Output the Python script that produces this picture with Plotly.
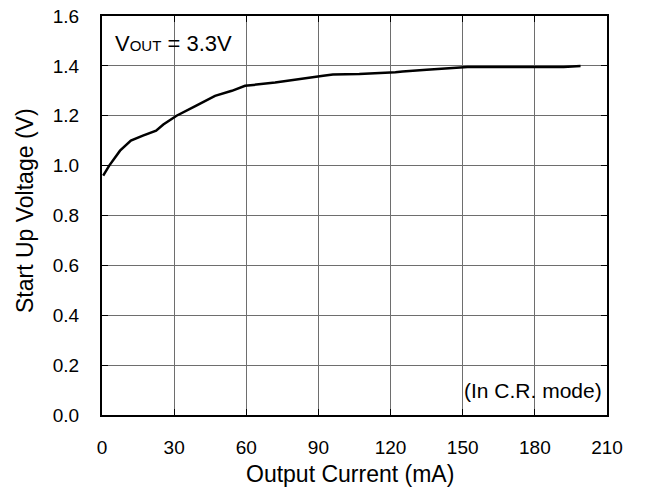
import plotly.graph_objects as go

# Start-up voltage vs. output current (VOUT = 3.3V, C.R. load)
output_current_ma = [0.5, 3, 7.5, 12, 17, 22.5, 25.5, 31, 39, 47, 54, 59.5,
                     72, 80, 92, 96, 107, 122, 125, 135, 145, 152, 170, 192, 199]
startup_voltage_v = [0.96, 1.00, 1.06, 1.10, 1.12, 1.14, 1.165, 1.20, 1.24, 1.28, 1.30, 1.32,
                     1.333, 1.345, 1.36, 1.365, 1.367, 1.374, 1.377, 1.384, 1.39, 1.395, 1.395, 1.395, 1.40]

x_ticks = [0, 30, 60, 90, 120, 150, 180, 210]
y_ticks = [0.0, 0.2, 0.4, 0.6, 0.8, 1.0, 1.2, 1.4, 1.6]

FONT = "Liberation Sans, Arial, Helvetica, sans-serif"

# plot-area geometry in pixels
L, R, T, B = 102, 607, 16, 415
W, H = R - L, B - T


def px(x):
    return (x - L) / W


def py(y):
    return (B - y) / H


fig = go.Figure()
fig.add_trace(go.Scatter(
    x=output_current_ma, y=startup_voltage_v, mode="lines",
    line=dict(color="black", width=2.5, shape="linear"),
    showlegend=False, hoverinfo="skip",
))

axis_common = dict(
    showgrid=True, gridcolor="#6e6e6e", gridwidth=1.3,
    showline=True, linecolor="black", linewidth=2, mirror="allticks",
    ticks="inside", ticklen=6, tickcolor="black", tickwidth=1.2,
    zeroline=False, automargin=False,
    tickfont=dict(family=FONT, size=19, color="black"),
)

fig.update_xaxes(range=[0, 210], tickvals=x_ticks, ticktext=[str(v) for v in x_ticks],
                 ticklabelstandoff=14, **axis_common)
fig.update_yaxes(range=[0, 1.6], tickvals=y_ticks, ticktext=[f"{v:.1f}" for v in y_ticks],
                 ticklabelstandoff=17, **axis_common)

# White label boxes sit above the grid but under the ticks and the curve
fig.add_shape(type="rect", xref="paper", yref="paper", x0=0, x1=px(232),
              y0=py(66), y1=1, fillcolor="white", line=dict(width=0), layer="between")
fig.add_shape(type="rect", xref="paper", yref="paper", x0=px(455), x1=1,
              y0=0, y1=py(368), fillcolor="white", line=dict(width=0), layer="between")

fig.add_annotation(xref="paper", yref="paper", x=px(113), y=py(43),
                   xanchor="left", yanchor="middle", showarrow=False,
                   text='V<span style="font-size:15px">OUT</span> = 3.3V',
                   font=dict(family=FONT, size=22, color="black"))
fig.add_annotation(xref="paper", yref="paper", x=px(604), y=py(390),
                   xanchor="right", yanchor="middle", showarrow=False,
                   text="(In C.R. mode)", font=dict(family=FONT, size=21, color="black"))

# Axis titles
fig.add_annotation(xref="paper", yref="paper", x=px(350), y=py(474),
                   xanchor="center", yanchor="middle", showarrow=False,
                   text="Output Current (mA)", font=dict(family=FONT, size=23, color="black"))
fig.add_annotation(xref="paper", yref="paper", x=px(25), y=py(211),
                   xanchor="center", yanchor="middle", showarrow=False, textangle=-90,
                   text="Start Up Voltage (V)", font=dict(family=FONT, size=23, color="black"))

fig.update_layout(
    width=653, height=490,
    margin=dict(l=L, r=653 - R, t=T, b=490 - B, pad=0, autoexpand=False),
    paper_bgcolor="white", plot_bgcolor="white",
    font=dict(family=FONT, color="black"),
)

fig.write_html("out.html")
